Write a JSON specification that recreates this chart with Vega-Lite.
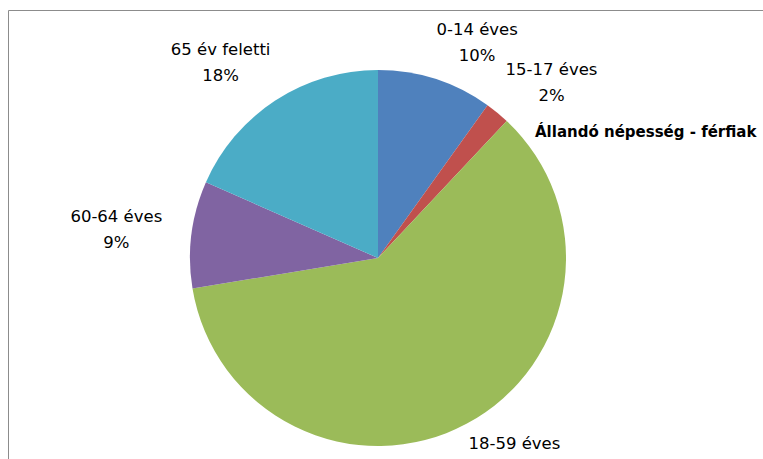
{
  "$schema": "https://vega.github.io/schema/vega-lite/v6.json",
  "width": 760,
  "height": 455,
  "autosize": {"type": "none"},
  "padding": {"left": 8, "top": 10, "right": 0, "bottom": 0},
  "background": "white",
  "view": {"stroke": "#8c8c8c", "strokeWidth": 1, "fill": "white"},
  "config": {
    "font": "DejaVu Sans"
  },
  "title": {
    "text": "Állandó népesség - férfiak",
    "orient": "top",
    "anchor": "start",
    "frame": "group",
    "font": "DejaVu Sans",
    "fontSize": 15,
    "fontWeight": "bold",
    "color": "black",
    "dx": 527,
    "dy": 134
  },
  "data": {
    "values": [
      {"rend": 1, "name": "0-14 éves", "value": 0.099},
      {"rend": 2, "name": "15-17 éves", "value": 0.021},
      {"rend": 3, "name": "18-59 éves", "value": 0.604},
      {"rend": 4, "name": "60-64 éves", "value": 0.092},
      {"rend": 5, "name": "65 év feletti", "value": 0.184}
    ]
  },
  "encoding": {
    "theta": {"field": "value", "type": "quantitative", "stack": true, "scale": {"domain": [0, 1]}},
    "order": {"field": "rend", "type": "quantitative"}
  },
  "layer": [
    {
      "mark": {"type": "arc", "radius": 188, "xOffset": -10, "yOffset": 20.5, "stroke": null},
      "encoding": {
        "color": {
          "field": "name",
          "type": "nominal",
          "scale": {
            "domain": ["0-14 éves", "15-17 éves", "18-59 éves", "60-64 éves", "65 év feletti"],
            "range": ["#4F81BD", "#C0504D", "#9BBB59", "#8064A2", "#4BACC6"]
          },
          "legend": null
        }
      }
    },
    {
      "mark": {"type": "text", "radius": 226, "xOffset": 20, "yOffset": 20.5, "dy": -13, "fontSize": 16.5, "font": "DejaVu Sans", "color": "black", "align": "center", "baseline": "middle"},
      "encoding": {
        "text": {"condition": {"test": "datum.rend > 3", "value": ""}, "field": "name", "type": "nominal"}
      }
    },
    {
      "mark": {"type": "text", "radius": 226, "xOffset": 20, "yOffset": 20.5, "dy": 13, "fontSize": 16.5, "font": "DejaVu Sans", "color": "black", "align": "center", "baseline": "middle"},
      "encoding": {
        "text": {"condition": {"test": "datum.rend > 3", "value": ""}, "field": "value", "type": "quantitative", "format": ".0%"}
      }
    },
    {
      "mark": {"type": "text", "radius": 234, "xOffset": -39.5, "yOffset": 21.8, "dy": -13, "fontSize": 16.5, "font": "DejaVu Sans", "color": "black", "align": "center", "baseline": "middle"},
      "encoding": {
        "text": {"condition": {"test": "datum.rend <= 3", "value": ""}, "field": "name", "type": "nominal"}
      }
    },
    {
      "mark": {"type": "text", "radius": 234, "xOffset": -39.5, "yOffset": 21.8, "dy": 13, "fontSize": 16.5, "font": "DejaVu Sans", "color": "black", "align": "center", "baseline": "middle"},
      "encoding": {
        "text": {"condition": {"test": "datum.rend <= 3", "value": ""}, "field": "value", "type": "quantitative", "format": ".0%"}
      }
    }
  ]
}
